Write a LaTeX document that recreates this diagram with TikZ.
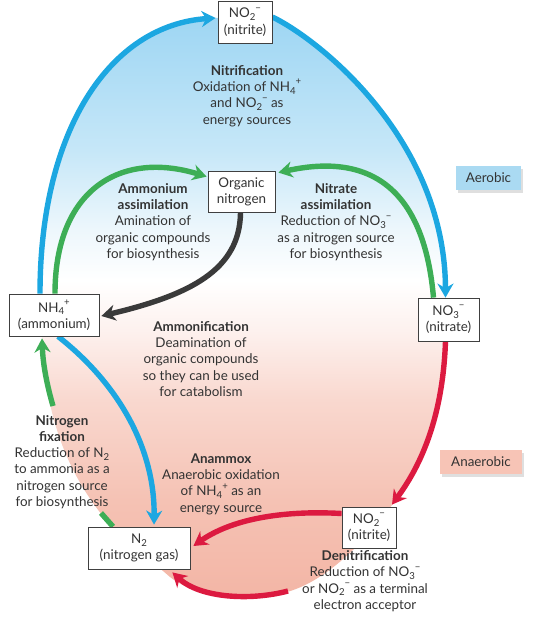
\documentclass[tikz,border=0pt]{standalone}
\usepackage{fontspec}
\setmainfont{Lato}
\usetikzlibrary{arrows.meta,shadows}
\definecolor{txt}{HTML}{333333}
\definecolor{cblue}{HTML}{1CA7E1}
\definecolor{cgreen}{HTML}{3DAE56}
\definecolor{cred}{HTML}{DC1A40}
\definecolor{cdark}{HTML}{3A3A3A}
\definecolor{blB}{HTML}{9ED6F3}
\definecolor{blA}{HTML}{C6E7F8}
\definecolor{bl0}{HTML}{EDF7FC}
\definecolor{pk0}{HTML}{FDF1EE}
\definecolor{pkA}{HTML}{F9D8CF}
\definecolor{pkB}{HTML}{F5C2B4}
\definecolor{pkC}{HTML}{F3B5A5}
\definecolor{labblue}{HTML}{AADAF2}
\definecolor{labpink}{HTML}{F7C4B6}
\pgfdeclareverticalshading{ncyc}{100bp}{color(0bp)=(pkC); color(25bp)=(pkC); color(33.7bp)=(pkB); color(42.3bp)=(pkA); color(48.2bp)=(pk0); color(52.5bp)=(white); color(56.8bp)=(bl0); color(63.6bp)=(blA); color(75bp)=(blB); color(100bp)=(blB)}
\newcommand\nsub[1]{\raisebox{-0.22em}{\fontsize{9.6}{9.6}\selectfont #1}}
\newcommand\nsup[1]{\raisebox{0.5em}{\fontsize{9.6}{9.6}\selectfont #1}}
\begin{document}
\begin{tikzpicture}[x=1pt,y=-1pt,
  every node/.style={text=txt, font=\fontsize{13.4}{16.3}\selectfont},
  spbox/.style={draw=black!75, line width=0.8pt, fill=white, align=center, inner sep=0pt},
  desc/.style={align=center, inner sep=0pt},
  lab/.style={align=center, inner sep=0pt, minimum height=24pt, drop shadow={opacity=0.25, shadow xshift=2pt, shadow yshift=-3pt}},
  conn/.style={line width=5.4pt, -{Stealth[length=14pt,width=16pt,inset=4.5pt]}},
  plain/.style={line width=5.4pt}]
\useasboundingbox (0,0) rectangle (536,622);
% background fill
\shade[shading=ncyc] (40,294) .. controls (40,130) and (110,25) .. (215,18)
  -- (273,17) .. controls (320,40) and (445,140) .. (446,296)
  -- (445,342) .. controls (443,410) and (425,460) .. (392,505)
  .. controls (370,535) and (330,580) .. (287,592)
  .. controls (250,602) and (200,600) .. (170,577)
  -- (113,528) .. controls (70,480) and (45,420) .. (42,338) -- cycle;
% boxes (placed first for naming)
\node[spbox, minimum width=54pt, minimum height=42pt] (no2t) at (245,22) {NO\nsub{2}\nsup{−}\\(nitrite)};
\node[spbox, minimum width=67pt, minimum height=41pt] (org) at (241.5,191.5) {Organic\\nitrogen};
\node[spbox, minimum width=90pt, minimum height=42pt] (nh4) at (54,315) {NH\nsub{4}\nsup{+}\\(ammonium)};
\node[spbox, minimum width=61pt, minimum height=43pt] (no3) at (448.5,319.5) {NO\nsub{3}\nsup{−}\\(nitrate)};
\node[spbox, minimum width=54pt, minimum height=41pt] (no2b) at (369,527.5) {NO\nsub{2}\nsup{−}\\(nitrite)};
\node[spbox, minimum width=102pt, minimum height=42pt] (n2) at (139,548) {N\nsub{2}\\(nitrogen gas)};
\coordinate (rstart) at (288,591);
\coordinate (gfa) at (101,513);
\coordinate (gfb) at (53,406);
% connectors
\draw[conn, cblue] ([xshift=-14pt]nh4.north) .. controls (40,130) and (110,25) .. ([xshift=-2pt,yshift=4pt]no2t.west);
\draw[conn, cblue] ([yshift=5pt]no2t.east) .. controls (320,40) and (445,140) .. ([xshift=-3pt]no3.north);
\draw[conn, cgreen] ([xshift=1pt]nh4.north) .. controls (55,190) and (120,150) .. ([xshift=-1pt,yshift=-6pt]org.north west);
\draw[conn, cgreen] ([xshift=-15pt]no3.north) .. controls (425,200) and (380,150) .. ([xshift=3pt,yshift=-2pt]org.north east);
\draw[conn, cdark] ([xshift=-1pt]org.south) .. controls (240,270) and (190,295) .. ([xshift=2pt,yshift=-1pt]nh4.east);
\draw[conn, cblue] ([xshift=4pt]nh4.south) .. controls (120,385) and (155,450) .. ([xshift=15pt,yshift=2pt]n2.north);
\draw[plain, cgreen] ([xshift=-26pt]n2.north) -- (gfa);
\draw[conn, cgreen] (gfb) .. controls (47,385) and (43,365) .. ([xshift=-12pt,yshift=-2pt]nh4.south);
\draw[conn, cred] ([xshift=-3pt]no3.south) .. controls (443,410) and (425,460) .. ([xshift=23pt,yshift=2pt]no2b.north);
\draw[conn, cred] ([yshift=14pt]no2b.west) .. controls (280,510) and (230,520) .. ([xshift=3pt,yshift=2pt]n2.east);
\draw[conn, cred] (rstart) .. controls (250,601) and (200,598) .. ([xshift=-18pt,yshift=-3pt]n2.south east);
% redraw boxes on top
\node[spbox, minimum width=54pt, minimum height=42pt] at (no2t) {NO\nsub{2}\nsup{−}\\(nitrite)};
\node[spbox, minimum width=67pt, minimum height=41pt] at (org) {Organic\\nitrogen};
\node[spbox, minimum width=90pt, minimum height=42pt] at (nh4) {NH\nsub{4}\nsup{+}\\(ammonium)};
\node[spbox, minimum width=61pt, minimum height=43pt] at (no3) {NO\nsub{3}\nsup{−}\\(nitrate)};
\node[spbox, minimum width=54pt, minimum height=41pt] at (no2b) {NO\nsub{2}\nsup{−}\\(nitrite)};
\node[spbox, minimum width=102pt, minimum height=42pt] at (n2) {N\nsub{2}\\(nitrogen gas)};
% descriptions
\node[desc] (tnit) at (247,96) {\textbf{Nitrification}\\Oxidation of NH\nsub{4}\nsup{+}\\and NO\nsub{2}\nsup{−} as\\energy sources};
\node[desc] (tamm) at (153,222) {\textbf{Ammonium}\\\textbf{assimilation}\\Amination of\\organic compounds\\for biosynthesis};
\node[desc] (tnat) at (336,222) {\textbf{Nitrate}\\\textbf{assimilation}\\Reduction of NO\nsub{3}\nsup{−}\\as a nitrogen source\\for biosynthesis};
\node[desc] (tamf) at (201,359) {\textbf{Ammonification}\\Deamination of\\organic compounds\\so they can be used\\for catabolism};
\node[desc] (tfix) at (62,462) {\textbf{Nitrogen}\\\textbf{fixation}\\Reduction of N\nsub{2}\\to ammonia as a\\nitrogen source\\for biosynthesis};
\node[desc] (tanx) at (221,484) {\textbf{Anammox}\\Anaerobic oxidation\\of NH\nsub{4}\nsup{+} as an\\energy source};
\node[desc] (tden) at (365,581) {\textbf{Denitrification}\\Reduction of NO\nsub{3}\nsup{−}\\or NO\nsub{2}\nsup{−} as a terminal\\electron acceptor};
% region labels
\node[lab, fill=labblue, minimum width=65pt] (aer) at (488.5,178) {Aerobic};
\node[lab, fill=labpink, minimum width=82pt] (ana) at (481,462) {Anaerobic};
\end{tikzpicture}
\end{document}
